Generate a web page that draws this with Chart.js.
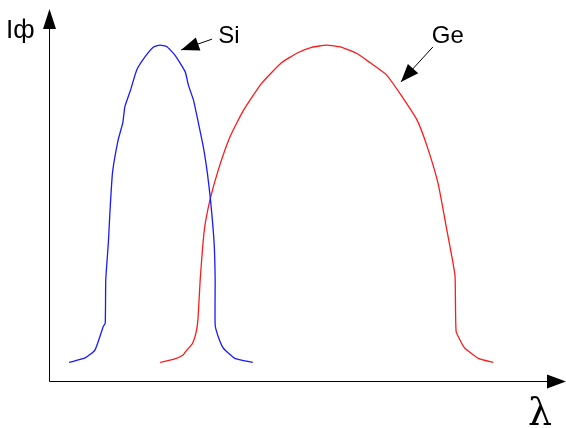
<!DOCTYPE html>
<html><head><meta charset="utf-8">
<script src="https://cdn.jsdelivr.net/npm/chart.js@4"></script>
<style>html,body{margin:0;padding:0;background:#fff}#wrap{width:566px;height:428px}</style>
</head><body><div id="wrap"><canvas id="c" width="566" height="428"></canvas></div>
<script>
// Wavelength (arbitrary units) and photocurrent (arbitrary units)
const siLambda = [3.9,7.0,8.9,10.5,10.9,11.0,11.5,11.8,12.3,13.4,14.3,14.7,15.8,17.0,18.6,20.2,21.5,22.8,24.4,26.4,27.0,28.0,28.9,29.9,30.7,31.3,32.0,32.2,32.2,32.8,33.8,36.0,39.5];
const siCurrent = [5.0,6.2,8.3,14.6,15.6,27.2,37.1,45.2,55.9,64.8,69.4,73.7,78.2,83.6,87.1,89.7,90.3,89.9,87.6,83.1,79.6,75.5,69.7,63.0,55.8,48.7,37.1,27.2,15.1,11.9,8.8,6.1,5.0];
const geLambda = [21.5,24.1,26.0,26.7,27.8,28.6,28.9,29.3,30.1,31.2,32.8,35.1,37.7,41.2,45.1,48.3,50.9,53.8,56.7,59.6,62.2,65.4,68.0,71.3,73.2,75.4,77.1,78.2,78.7,78.9,80.0,80.6,83.2,86.1];
const geCurrent = [5.0,5.8,7.0,8.3,10.1,13.7,17.3,27.2,40.6,48.7,56.7,65.7,72.8,80.0,85.6,88.3,89.7,90.3,89.7,88.1,85.6,82.3,77.3,70.2,63.4,53.1,40.6,32.5,28.0,13.3,10.1,8.8,6.1,5.0];
const seriesNames = ["Si", "Ge"];
const axisLabels = ["Iф", "λ"];

const toPts = (xs, ys) => xs.map((x, i) => ({x, y: ys[i]}));

function arrowHead(ctx, x1, y1, x2, y2, len, hw) {
  const a = Math.atan2(y2 - y1, x2 - x1);
  ctx.beginPath();
  ctx.moveTo(x2, y2);
  ctx.lineTo(x2 - len*Math.cos(a) + hw*Math.sin(a), y2 - len*Math.sin(a) - hw*Math.cos(a));
  ctx.lineTo(x2 - len*Math.cos(a) - hw*Math.sin(a), y2 - len*Math.sin(a) + hw*Math.cos(a));
  ctx.closePath();
  ctx.fill();
}

const deco = {
  id: 'deco',
  afterDatasetsDraw(chart) {
    const ctx = chart.ctx, xs = chart.scales.x, ys = chart.scales.y, ca = chart.chartArea;
    ctx.save();
    ctx.strokeStyle = '#000'; ctx.fillStyle = '#000'; ctx.lineWidth = 1;
    const ax = Math.round(ca.left) + 0.5, ay = Math.round(ca.bottom) + 0.5;
    // axes
    ctx.beginPath();
    ctx.moveTo(ax, ay); ctx.lineTo(ax, ca.top + 10);
    ctx.moveTo(ax, ay); ctx.lineTo(ca.right - 8, ay);
    ctx.stroke();
    arrowHead(ctx, ax, ay, ax, ca.top, 20, 6.5);
    arrowHead(ctx, ax, ay, ca.right + 1, ay, 19, 7);
    // axis labels
    ctx.textBaseline = 'alphabetic';
    ctx.font = '26px "Liberation Sans", Arial, sans-serif';
    ctx.fillText(axisLabels[0], 6, 38);
    ctx.font = '38px "DejaVu Serif", serif';
    ctx.fillText(axisLabels[1], 528, 425);
    // series annotations
    ctx.font = '24px "Liberation Sans", Arial, sans-serif';
    const ann = [
      {t: seriesNames[0], tx: 32.8, ty: 90.9, x1: 31.6, y1: 91.9, x2: 25.6, y2: 89.0},
      {t: seriesNames[1], tx: 74.2, ty: 90.9, x1: 74.4, y1: 89.8, x2: 68.2, y2: 80.4}
    ];
    ann.forEach(a => {
      ctx.fillText(a.t, xs.getPixelForValue(a.tx), ys.getPixelForValue(a.ty));
      const px1 = xs.getPixelForValue(a.x1), py1 = ys.getPixelForValue(a.y1);
      const px2 = xs.getPixelForValue(a.x2), py2 = ys.getPixelForValue(a.y2);
      ctx.beginPath(); ctx.moveTo(px1, py1); ctx.lineTo(px2, py2); ctx.stroke();
      arrowHead(ctx, px1, py1, px2, py2, 18, 7);
    });
    ctx.restore();
  }
};

new Chart(document.getElementById('c'), {
  type: 'line',
  data: {
    datasets: [
      {label: seriesNames[0], data: toPts(siLambda, siCurrent), borderColor: '#1a1aff', borderWidth: 1.3, pointRadius: 0, tension: 0.15, fill: false},
      {label: seriesNames[1], data: toPts(geLambda, geCurrent), borderColor: '#ff1a1a', borderWidth: 1.3, pointRadius: 0, tension: 0.15, fill: false}
    ]
  },
  options: {
    responsive: false, animation: false, devicePixelRatio: 1,
    layout: {padding: {left: 49, top: 9, right: 1, bottom: 47}},
    scales: {
      x: {type: 'linear', min: 0, max: 100, display: false},
      y: {type: 'linear', min: 0, max: 100, display: false}
    },
    plugins: {legend: {display: false}, tooltip: {enabled: false}},
    elements: {line: {capBezierPoints: true}}
  },
  plugins: [deco]
});
</script>
</body></html>
